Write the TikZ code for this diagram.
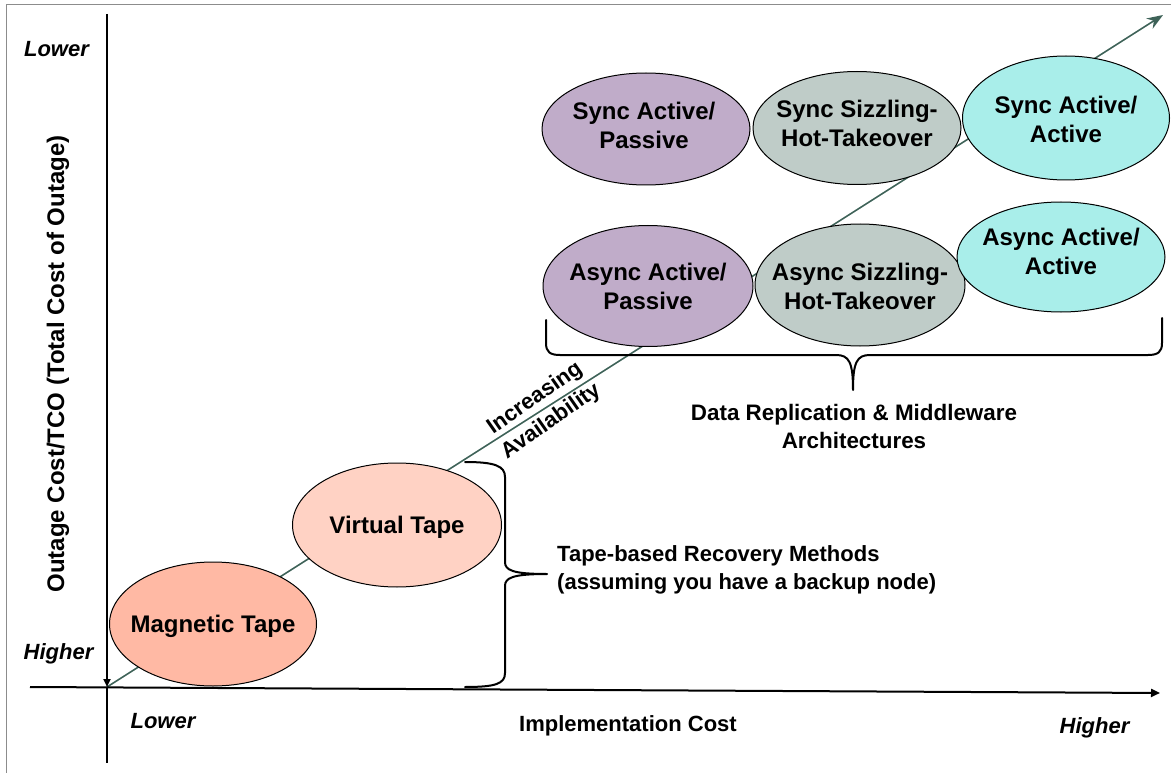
\documentclass[tikz,border=0pt]{standalone}
\usepackage{fontspec}
\setmainfont{Liberation Sans}
\usetikzlibrary{arrows.meta,shapes.geometric}

\definecolor{purp}{HTML}{C0ACC9}
\definecolor{sage}{HTML}{BFCCC8}
\definecolor{aqua}{HTML}{A9EEEA}
\definecolor{salmon}{HTML}{FFB9A4}
\definecolor{peach}{HTML}{FFD2C4}
\definecolor{diagc}{HTML}{3E6258}
\definecolor{framec}{HTML}{8C8C8C}

\begin{document}
\begin{tikzpicture}[x=1pt,y=-1pt,
  blob/.style={ellipse, draw=black, line width=1pt, inner sep=0pt},
  blobsz/.style n args={2}{minimum width=#1pt, minimum height=#2pt},
  lbl/.style={font=\bfseries\fontsize{24}{29}\selectfont, align=center, inner sep=0pt},
  note/.style={font=\bfseries\fontsize{22}{28}\selectfont, inner sep=0pt},
  tick/.style={font=\bfseries\itshape\fontsize{22}{26}\selectfont, inner sep=0pt},
  axis line/.style={line width=2pt},
  bracestroke/.style={line width=2pt, line join=round, line cap=round},
  diag/.style={diagc, line width=1.6pt}]

\useasboundingbox (0,0) rectangle (1171,773);

% frame edges
\draw[framec, line width=1pt] (6,773) -- (6,5) -- (1171,5);

% availability diagonal
\coordinate (o) at (107,687);
\coordinate (diagend) at (1163,15);
\draw[diag, -{Stealth[length=16pt,width=12pt]}] (o) -- (diagend);

% axes
\coordinate (ytop) at (107,14);
\coordinate (ybot) at (107,763);
\coordinate (xl) at (30,687);
\coordinate (xr) at (1160,693);
\draw[axis line, -{Triangle[length=8pt,width=7pt]}] (ytop) -- (o);
\draw[axis line] (o) -- (ybot);
\draw[axis line, -{Triangle[length=9pt,width=8pt]}] (xl) -- (xr);

% solution ellipses
\node[blob, fill=purp, blobsz={208}{112}] (sap) at (646,129) {};
\node[blob, fill=sage, blobsz={208}{113}] (sst) at (857,128) {};
\node[blob, fill=aqua, blobsz={207}{124}] (saa) at (1066,118) {};
\node[blob, fill=purp, blobsz={210}{121}] (aap) at (648,286) {};
\node[blob, fill=sage, blobsz={210}{122}] (ast) at (860,285) {};
\node[blob, fill=aqua, blobsz={208}{110}] (aaa) at (1061,257) {};
\node[blob, fill=peach, blobsz={209}{124}] (vt) at (397,525) {};
\node[blob, fill=salmon, blobsz={207}{124}] (mt) at (213,624) {};

\node[lbl] (sapT) at (644,125) {Sync Active/\\Passive};
\node[lbl] (sstT) at (857,123) {Sync Sizzling-\\Hot-Takeover};
\node[lbl] (saaT) at (1066,119) {Sync Active/\\Active};
\node[lbl] (aapT) at (648,286) {Async Active/\\Passive};
\node[lbl] (astT) at (860,286) {Async Sizzling-\\Hot-Takeover};
\node[lbl] (aaaT) at (1061,251) {Async Active/\\Active};
\node[lbl, anchor=base] (vtT) at (397,533) {Virtual Tape};
\node[lbl, anchor=base] (mtT) at (213,632) {Magnetic Tape};

% brace under the replication architectures
\coordinate (dbL) at (546,320);
\coordinate (dbR) at (1162,318);
\coordinate (dbTip) at (853,390);
\draw[bracestroke] (dbL) -- (546,343) .. controls (546,352) and (550,355) .. (560,355)
  -- (836,355) .. controls (849,355) and (853,362) .. (dbTip)
  .. controls (853,362) and (857,355) .. (870,355)
  -- (1148,355) .. controls (1158,355) and (1162,352) .. (1162,343) -- (dbR);

% brace beside the tape methods
\coordinate (tbTop) at (465,462);
\coordinate (tbBot) at (465,687);
\coordinate (tbTip) at (547,574);
\draw[bracestroke] (tbTop) .. controls (495,462) and (505,466) .. (505,477)
  -- (505,562) .. controls (505,570) and (512,574) .. (tbTip)
  .. controls (512,574) and (505,578) .. (505,586)
  -- (505,673) .. controls (505,684) and (495,687) .. (tbBot);

% axis texts
\node[tick, anchor=base] (ylow) at (56.5,57) {Lower};
\node[tick, anchor=base] (yhigh) at (58.5,659) {Higher};
\node[tick, anchor=base] (xlow) at (163,728) {Lower};
\node[tick, anchor=base] (xhigh) at (1094.5,733) {Higher};
\node[note, anchor=base] (xtitle) at (628,731) {Implementation Cost};
\node[note, font=\bfseries\fontsize{24}{28}\selectfont, rotate=90] (ytitle) at (58,364) {Outage Cost/TCO (Total Cost of Outage)};

% group captions
\node[note, font=\bfseries\fontsize{22.4}{28}\selectfont, align=center] (drcap) at (854,426) {Data Replication \& Middleware\\Architectures};
\node[note, align=left, anchor=north west] (tapecap) at (557,545) {Tape-based Recovery Methods\\(assuming you have a backup node)};
\node[note, align=center, rotate=35] (incav) at (543,410) {Increasing\\Availability};

\end{tikzpicture}
\end{document}
